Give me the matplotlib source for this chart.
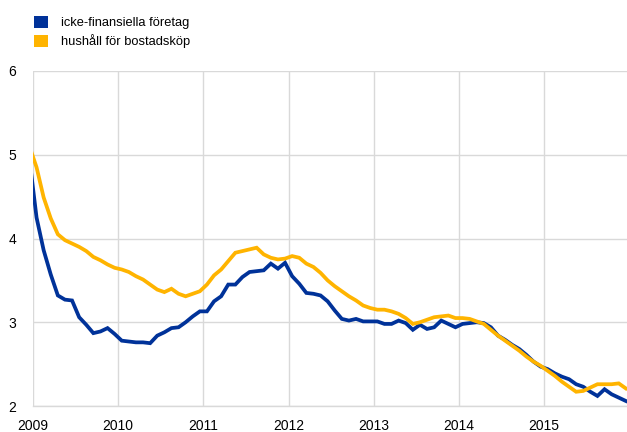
import numpy as np
import matplotlib
matplotlib.use("Agg")
from matplotlib import pyplot as plt
from matplotlib.patches import Patch

plt.rcParams['font.family'] = ['Liberation Sans', 'DejaVu Sans']

# monthly values, Dec 2008 .. Dec 2015 (points at mid-month)
first_year = 2008
first_month = 12
years = [2009, 2010, 2011, 2012, 2013, 2014, 2015]
y_ticks = [2, 3, 4, 5, 6]

labels = ["icke-finansiella företag", "hushåll för bostadsköp"]

foretag = [
    4.95,
    4.25, 3.86, 3.57, 3.32, 3.27, 3.26, 3.06, 2.97, 2.87, 2.89, 2.93, 2.86,
    2.78, 2.77, 2.76, 2.76, 2.75, 2.84, 2.88, 2.93, 2.94, 3.00, 3.07, 3.13,
    3.13, 3.25, 3.31, 3.45, 3.45, 3.54, 3.60, 3.61, 3.62, 3.70, 3.64, 3.71,
    3.55, 3.46, 3.35, 3.34, 3.32, 3.25, 3.14, 3.04, 3.02, 3.04, 3.01, 3.01,
    3.01, 2.98, 2.98, 3.02, 2.99, 2.91, 2.97, 2.92, 2.94, 3.02, 2.98, 2.94,
    2.98, 2.99, 3.00, 2.99, 2.94, 2.84, 2.79, 2.73, 2.68, 2.61, 2.53, 2.47,
    2.44, 2.39, 2.35, 2.32, 2.26, 2.23, 2.17, 2.12, 2.20, 2.14, 2.10, 2.06,
]

hushall = [
    5.10,
    4.85, 4.49, 4.24, 4.05, 3.98, 3.94, 3.90, 3.85, 3.78, 3.74, 3.69, 3.65,
    3.63, 3.60, 3.55, 3.51, 3.45, 3.39, 3.36, 3.40, 3.34, 3.31, 3.34, 3.37,
    3.45, 3.56, 3.63, 3.73, 3.83, 3.85, 3.87, 3.89, 3.81, 3.77, 3.75, 3.76,
    3.79, 3.77, 3.70, 3.66, 3.59, 3.50, 3.43, 3.37, 3.31, 3.26, 3.20, 3.17,
    3.15, 3.15, 3.13, 3.10, 3.05, 2.98, 3.00, 3.03, 3.06, 3.07, 3.08, 3.05,
    3.05, 3.04, 3.01, 2.98, 2.91, 2.84, 2.78, 2.72, 2.66, 2.59, 2.53, 2.48,
    2.42, 2.36, 2.29, 2.23, 2.17, 2.18, 2.22, 2.26, 2.26, 2.26, 2.27, 2.21,
]

blue = "#003299"
yellow = "#ffb400"
grid_color = "#d9d9d9"

# decimal year at the middle of each month
n = len(foretag)
x = first_year + (first_month - 0.5) / 12 + np.arange(n) / 12

fig = plt.figure(figsize=(6.27, 4.32), dpi=100)
ax = fig.add_axes([33 / 627, 26 / 432, 594 / 627, 335 / 432])

ax.plot(x, foretag, color=blue, lw=2.7, solid_joinstyle="miter")
ax.plot(x, hushall, color=yellow, lw=2.7, solid_joinstyle="miter")

ax.set_xlim(2009, 2015.972)
ax.set_ylim(2, 6)
ax.set_xticks(years)
ax.set_xticklabels([str(y) for y in years])
ax.set_yticks(y_ticks)
ax.set_yticklabels([str(t) for t in y_ticks])

ax.grid(True, color=grid_color, lw=1.0)
ax.set_axisbelow(True)
for side in ["top", "right", "left"]:
    ax.spines[side].set_visible(False)
ax.spines["bottom"].set_color(grid_color)
ax.spines["bottom"].set_linewidth(1.0)
ax.tick_params(axis="both", length=0, labelsize=10, colors="#000000")
ax.tick_params(axis="y", pad=12)
ax.tick_params(axis="x", pad=9)

handles = [Patch(facecolor=blue, edgecolor="none"),
           Patch(facecolor=yellow, edgecolor="none")]
fig.legend(handles, labels, loc="upper left",
           bbox_to_anchor=(34 / 627, 1 - 16 / 432),
           frameon=False, fontsize=9.3, handlelength=1.05, handleheight=1.05,
           handletextpad=1.05, labelspacing=0.4, borderpad=0, borderaxespad=0)

fig.savefig("out.png", dpi=100)
